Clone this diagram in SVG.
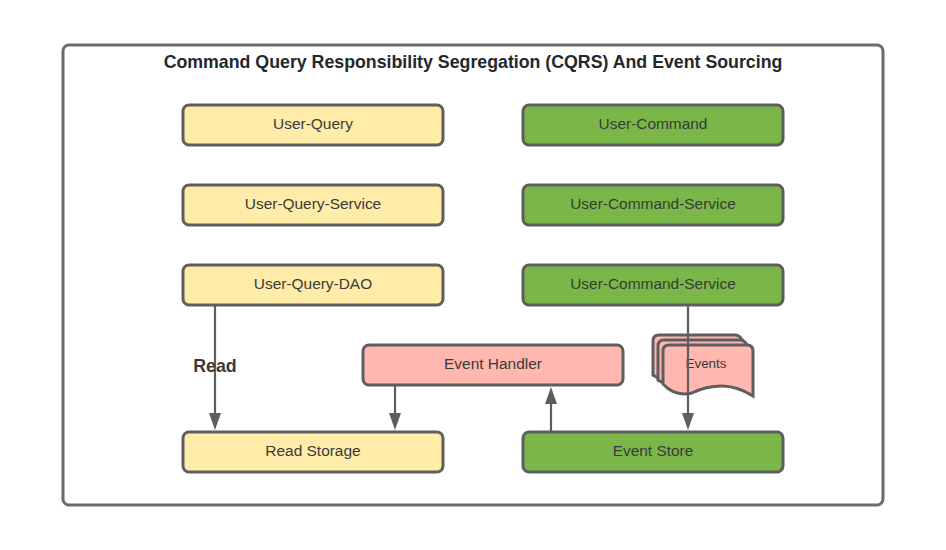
<svg xmlns="http://www.w3.org/2000/svg" width="946" height="550" viewBox="0 0 946 550">
<defs>
<style>
text{font-family:"Liberation Sans",Arial,sans-serif;fill:#3a3a3a;text-anchor:middle}
.n{font-size:15.45px}
.y{fill:#ffeca9}.g{fill:#7ab648}.p{fill:#ffb7b0}
.b{stroke:#5e5e5e;stroke-width:3}
.l{stroke:#5e5e5e;stroke-width:2.2;fill:none}
.h{fill:#5e5e5e}
</style>
</defs>
<rect width="946" height="550" fill="#fff"/>
<g id="frame"><rect x="63" y="45" width="820" height="460" rx="6" fill="#fff" stroke="#6b6b6b" stroke-width="3"/>
<text x="473" y="68" font-size="17.75" font-weight="700" style="fill:#23282d">Command Query Responsibility Segregation (CQRS) And Event Sourcing</text></g>
<g id="events"><path class="p b" d="M653 375V341Q653 335 659 335H735Q738 335 740 337L743 341V381L737 378Q720 371 700 378Q680 385 662 380Z"/>
<path class="p b" d="M658 380V346Q658 340 664 340H740Q743 340 745 342L748 346V386L742 383Q725 376 705 383Q685 390 667 385Z"/>
<path class="p b" d="M663 384V351Q663 345 669 345H747Q753 345 753 351V396Q737 386 722 386Q706 386 692 393Q675 397 663 384Z"/>
<text x="706" y="368" font-size="13.4">Events</text></g>
<g id="connectors">
<path class="l" d="M215 306V413"/><path class="h" d="M209 413H221L215 430Z"/>
<path class="l" d="M395 386V413"/><path class="h" d="M389 413H401L395 430Z"/>
<path class="l" d="M551 431V404"/><path class="h" d="M545 404H557L551 387Z"/>
<path class="l" d="M688 306V413"/><path class="h" d="M682 413H694L688 430Z"/>
<text x="215" y="371.500" font-size="17.8" font-weight="700">Read</text>
</g>
<g id="uq"><rect class="y b" x="183" y="105" width="260" height="40" rx="6"/><text class="n" x="313" y="129">User-Query</text></g>
<g id="uqs"><rect class="y b" x="183" y="185" width="260" height="40" rx="6"/><text class="n" x="313" y="209">User-Query-Service</text></g>
<g id="uqd"><rect class="y b" x="183" y="265" width="260" height="40" rx="6"/><text class="n" x="313" y="289">User-Query-DAO</text></g>
<g id="uc"><rect class="g b" x="523" y="105" width="260" height="40" rx="6"/><text class="n" x="653" y="129">User-Command</text></g>
<g id="ucs"><rect class="g b" x="523" y="185" width="260" height="40" rx="6"/><text class="n" x="653" y="209">User-Command-Service</text></g>
<g id="ucs2"><rect class="g b" x="523" y="265" width="260" height="40" rx="6"/><text class="n" x="653" y="289">User-Command-Service</text></g>
<g id="eh"><rect class="p b" x="363" y="345" width="260" height="40" rx="6"/><text class="n" x="493" y="369">Event Handler</text></g>
<g id="rs"><rect class="y b" x="183" y="432" width="260" height="40" rx="6"/><text class="n" x="313" y="456">Read Storage</text></g>
<g id="es"><rect class="g b" x="523" y="432" width="260" height="40" rx="6"/><text class="n" x="653" y="456">Event Store</text></g>
</svg>
